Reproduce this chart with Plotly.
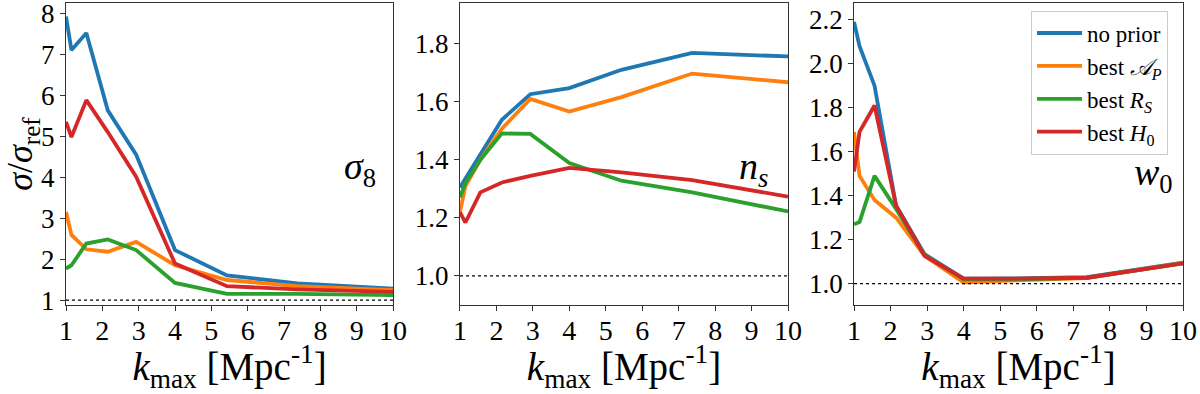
import plotly.graph_objects as go
from plotly.subplots import make_subplots

# k_max sampling points
kmax = [1.0, 1.15, 1.56, 2.15, 2.93, 4.0, 5.43, 7.37, 10.0]

labels = ["no prior", "best <i>𝒜<sub>P</sub></i>", "best <i>R<sub>S</sub></i>", "best <i>H</i><sub>0</sub>"]
colors = ["#1f77b4", "#ff7f0e", "#2ca02c", "#d62728"]

# sigma_8 panel
s8_noprior = [7.92, 7.10, 7.52, 5.63, 4.55, 2.22, 1.60, 1.41, 1.28]
s8_AP = [3.15, 2.59, 2.24, 2.18, 2.42, 1.85, 1.49, 1.34, 1.24]
s8_RS = [1.77, 1.85, 2.38, 2.48, 2.22, 1.42, 1.15, 1.15, 1.12]
s8_H0 = [5.35, 4.98, 5.88, 5.10, 4.01, 1.89, 1.34, 1.26, 1.20]

# n_s panel
ns_noprior = [1.305, 1.335, 1.42, 1.538, 1.626, 1.647, 1.71, 1.768, 1.756]
ns_AP = [1.22, 1.31, 1.40, 1.507, 1.61, 1.566, 1.616, 1.697, 1.667]
ns_RS = [1.27, 1.32, 1.40, 1.491, 1.489, 1.389, 1.328, 1.288, 1.222]
ns_H0 = [1.219, 1.184, 1.288, 1.322, 1.345, 1.372, 1.357, 1.330, 1.273]

# w_0 panel
w0_noprior = [2.19, 2.08, 1.90, 1.355, 1.134, 1.023, 1.024, 1.030, 1.096]
w0_AP = [1.69, 1.49, 1.38, 1.30, 1.126, 1.005, 1.015, 1.025, 1.095]
w0_RS = [1.27, 1.28, 1.49, 1.34, 1.13, 1.02, 1.02, 1.027, 1.093]
w0_H0 = [1.51, 1.69, 1.81, 1.355, 1.126, 1.023, 1.023, 1.027, 1.092]

panels = [
    ([s8_noprior, s8_AP, s8_RS, s8_H0], "<i>σ</i><sub>8</sub>", [0.88, 8.25], 1, None),
    ([ns_noprior, ns_AP, ns_RS, ns_H0], "<i>n<sub>s</sub></i>", [0.90, 1.94], 0.2, ".1f"),
    ([w0_noprior, w0_AP, w0_RS, w0_H0], "<i>w</i><sub>0</sub>", [0.903, 2.276], 0.2, ".1f"),
]

font = "Liberation Serif"

fig = make_subplots(rows=1, cols=3)
domains = [[0, 0.2928], [0.3527, 0.6464], [0.7055, 1.0]]
ann_x = [0.955, 0.945, 0.976]
ann_y = [0.45, 0.45, 0.43]

for c, (series, name, yr, dt, fmt) in enumerate(panels, start=1):
    for s, lab, col in zip(series, labels, colors):
        fig.add_trace(go.Scatter(x=kmax, y=s, mode="lines", name=lab,
                                 line=dict(color=col, width=3.8),
                                 showlegend=(c == 3)), row=1, col=c)
    fig.add_hline(y=1, line=dict(color="black", width=1.2, dash="dot"), row=1, col=c)
    xa = "xaxis" if c == 1 else f"xaxis{c}"
    ya = "yaxis" if c == 1 else f"yaxis{c}"
    fig.layout[xa].update(domain=domains[c - 1], range=[1, 10], dtick=1, tick0=1,
                          showline=True, mirror=True, linecolor="#333", linewidth=1,
                          ticks="outside", ticklen=5, tickcolor="#333",
                          showgrid=False, zeroline=False, automargin=False,
                          ticklabelstandoff=-5, ticklabeloverflow="allow",
                          tickfont=dict(family=font, size=28, color="black"),
                          title=dict(text="<i>k</i><sub>max</sub> [Mpc<sup>-1</sup>]",
                                     font=dict(family=font, size=39, color="black"),
                                     standoff=8))
    fig.layout[ya].update(range=yr, dtick=dt, tickformat=fmt,
                          showline=True, mirror=True, linecolor="#333", linewidth=1,
                          ticks="outside", ticklen=5, tickcolor="#333",
                          showgrid=False, zeroline=False, automargin=False,
                          ticklabeloverflow="allow",
                          tickfont=dict(family=font, size=27, color="black"))
    xr = "x" if c == 1 else f"x{c}"
    yr_ = "y" if c == 1 else f"y{c}"
    fig.add_annotation(text=name, xref=f"{xr} domain", yref=f"{yr_} domain",
                       x=ann_x[c - 1], y=ann_y[c - 1], xanchor="right", yanchor="middle",
                       showarrow=False, font=dict(family=font, size=38, color="black"))

fig.layout.yaxis.update(title=dict(text="<i>σ</i>/<i>σ</i><sub>ref</sub>",
                                   font=dict(family=font, size=36, color="black"),
                                   standoff=4))

fig.update_layout(
    width=1200, height=394,
    margin=dict(l=66, r=17, t=3, b=89),
    plot_bgcolor="white", paper_bgcolor="white",
    legend=dict(x=0.9866, y=0.975, xanchor="right", yanchor="top",
                bgcolor="rgba(255,255,255,0.8)", bordercolor="#ccc", borderwidth=1,
                itemwidth=45,
                font=dict(family=font, size=23, color="black"), tracegroupgap=0),
)

fig.write_html("out.html", config={"displayModeBar": False},
               post_script="document.body.style.margin='0px';")
